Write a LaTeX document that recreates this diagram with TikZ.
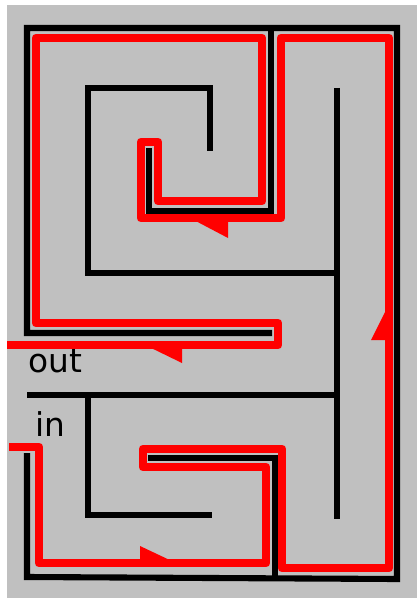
\documentclass[tikz,border=0pt]{standalone}
\usepackage{fontspec}
\setmainfont{DejaVu Sans}
\usepackage{xcolor}
\usepackage{tikz}
\definecolor{mazegrey}{RGB}{192,192,192}

\begin{document}
\begin{tikzpicture}[x=0.03cm,y=-0.03cm,
    wall/.style={line width=5.2pt},
    route/.style={red,line width=7.6pt,line join=round},
    label/.style={anchor=base west,inner sep=0pt,font=\fontsize{28}{30}\selectfont}]
    \fill[white] (0,0) rectangle (417,598);
    \fill[mazegrey] (7,5) rectangle (417,598);
    \draw[wall] (272,333)--(27,333)--(27,28)--(397,28)--(397,579)--(27,577)--(27,453);
    \draw[wall] (271,28)--(271,211)--(149,211)--(149,148);
    \draw[wall] (210,151)--(210,88)--(88,88)--(88,273)--(337,273);
    \draw[wall] (337,88)--(337,519);
    \draw[wall] (27,395)--(337,395);
    \draw[wall] (88,395)--(88,515)--(212,515);
    \draw[wall] (148,458)--(275,458)--(275,577);
    \draw[route] (9,447)--(39,447)--(39,563)--(266,563)--(266,467)--(143,467)--(143,449)--(282,449)--(282,568)--(389,568)--(389,38)--(281,38)--(281,218)--(141,218)--(141,142)--(158,142)--(158,201)--(262,201)--(262,38)--(36,38)--(36,323)--(278,323)--(278,345)--(7,345);
    \fill[red] (140,563)--(140,546)--(176,563)--cycle;
    \fill[red] (389,304)--(371,340)--(389,340)--cycle;
    \fill[red] (190,218)--(228,218)--(228,238)--cycle;
    \fill[red] (145,345)--(182,345)--(182,363)--cycle;
    \node[label] (out) at (28,372) {out};
    \node[label] (in) at (35,436) {in};
\end{tikzpicture}
\end{document}
